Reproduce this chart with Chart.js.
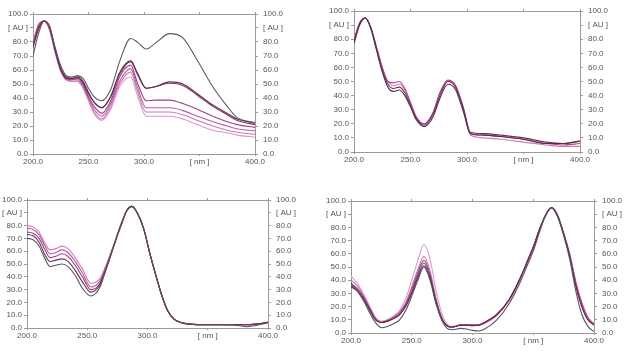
<!DOCTYPE html>
<html>
<head>
<meta charset="utf-8">
<script src="https://cdn.jsdelivr.net/npm/chart.js@4.4.1/dist/chart.umd.min.js"></script>
<style>
  body { margin: 0; background: #fff; width: 624px; height: 363px; overflow: hidden; position: relative; }
  canvas { position: absolute; }
</style>
</head>
<body>
<canvas id="chart1"></canvas>
<canvas id="chart2"></canvas>
<canvas id="chart3"></canvas>
<canvas id="chart4"></canvas>
<script>
// wavelength (nm) per panel, absorbance (AU) per curve
const wl1 = [200,205,210,215,220,225,230,235,240,245,250,255,262,270,278,288,294,302,310,323,335,348,362,375,384,400];
const p1a = [70,86,95,91,76,63,56,55,56,54,47,41,38,46,66,82.5,80,75,79,86,83,67,48,34,26,22.5];
const p1b = [76,89,95,91,75,61,55,54,55,52,44,37,33,41,58,66.5,58,47,48,51.5,50,43,35,29,25,22];
const p1c = [77,90,95,90,74,61,54,54,55,51,43,37,33,41,57,66,57,47,48,50.5,49,42,34,28,24,21];
const p1d = [78,91,95,90,74,60,54,53,54,50,41,34,29,38,55,63.5,51,38,38.5,38.5,36,32,27,23,21,19];
const p1e = [79,92,95,89,73,60,53,53,53,49,40,32,27,36,52,61,48,33,33,33,31,27,23,20,18,16.5];
const p1f = [79,92,95,89,73,59,53,52,52,48,39,30,25,34,50,58.5,45,30,30,30,28,24,20,17,15.5,14];
const p1g = [80,93,95,88,72,59,53,52,52,47,38,29,24,32,48,55,42,27,27,27,25,21,17,15,13.5,12];

const wl2 = [200,205,210,215,220,225,230,235,240,245,250,255,262,270,276,283,290,297,303,315,330,350,370,385,400];
const p2a = [77,90,95,87,72,57,46,43,44,40,32,23,18,25,38,48,44,28,13,12,11,9,6,6,7.5];
const p2b = [78,91,95,88,73,58,48,45,46,42,33,24,19,27,40,50,46,30,14,13,12,10,7,6,8];
const p2c = [79,91,95,88,74,60,50,49,50,45,35,25,20,28,42,51,47,31,13,12,11,9,6,5,6];
const p2d = [80,92,95,88,74,60,50,47,48,44,35,25,20,28,42,50,46,30,12,10,9,7,5,4,4];

const wl3 = [200,205,210,215,219,224,229,234,240,246,253,260,266,272,278,283,287,292,297,302,307,312,317,322,327,335,350,365,375,382,390,400];
const p3a = [70,69,64,54,48,49,50,48,41,31,25,31,47,64,80,92,95,89,77,58,41,25,13,7,4.5,3,2.5,2.5,2,1,2,4];
const p3b = [73,72,67,57,52,53,54,52,45,36,28,33,47,64,80,92,95,89,77,58,41,25,13,7,4.5,3,2.5,2.5,2.5,2.5,3,4.5];
const p3c = [75,74,70,61,55,56,58,56,49,40,30,34,48,64,81,92,95,89,77,58,41,25,13,7,4.5,3,2.5,2.5,2.5,2.5,3,4.5];
const p3d = [78,77,73,64,58,59,61,59,52,43,32,36,49,65,81,92,95,89,77,58,41,25,13,7,4.5,3,2.5,2.5,2.5,2.5,3,4.5];
const p3e = [80,79,75,66,61,62,64,62,55,46,35,38,50,65,81,92,95,89,77,58,41,25,13,7,4.5,3,2.5,2.5,2.5,2.5,3,4.5];

const wl4 = [200,205,210,215,220,225,230,235,240,245,250,255,260,265,270,275,280,284,290,295,300,305,310,320,330,340,345,350,355,360,365,370,375,380,385,390,395,400];
const p4a = [38,32,25,16,8,4,5,7,10,17,28,40,50,40,22,9,3,2.5,3.5,3,2,1.5,3,10,22,40,51,62,76,89,95,88,74,56,32,14,5,1];
const p4b = [35,32,26,18,10,8,9,11,14,20,30,42,51,42,23,10,5,4.5,6,6,6,6,8,14,25,43,54,65,78,89,95,89,75,58,36,20,10,6];
const p4c = [36,33,27,19,11,8,9,11,14,21,31,44,53,43,24,10,5,4.5,6,6,6,6,8,14,25,43,54,65,78,89,95,89,75,58,36,20,10,6];
const p4d = [37,34,28,19,11,8,9,12,15,22,33,46,55,45,25,11,5,4.5,6,6,5.5,6,8,14,25,43,54,65,78,89,95,89,75,59,38,22,11,6.5];
const p4e = [40,36,29,20,11,8,10,12,16,23,35,48,58,47,26,11,5,4.5,6,6,5.5,6,8,14,25,43,54,65,78,89,95,89,76,60,39,23,12,7];
const p4f = [43,38,30,21,12,9,10,13,17,26,40,55,67,56,32,14,6,5,6,6,5.5,6,7,13,24,42,53,64,77,88,95,89,76,60,39,23,12,7];

const xTicks = [200, 250, 300, 350, 400];
const yTicks = [0, 10, 20, 30, 40, 50, 60, 70, 80, 90, 100];

const tickColor = "#555";
const axisColor = "#9a9a9a";
const tickFont = { family: "Liberation Sans", size: 8 };

function xLabel(v) {
  return v === 350 ? "[ nm ]" : v.toFixed(1);
}
function yLabel(v) {
  return v === 90 ? "[ AU ]" : v.toFixed(1);
}

function yAxis(pos, width) {
  return {
    type: "linear",
    position: pos,
    min: 0,
    max: 100,
    afterBuildTicks: (s) => { s.ticks = yTicks.map((v) => ({ value: v })); },
    afterFit: (s) => { s.width = width; },
    grid: { drawOnChartArea: false, tickLength: 3, color: axisColor },
    border: { color: axisColor },
    ticks: { color: tickColor, font: tickFont, padding: pos === "left" ? 2 : 5, autoSkip: false, callback: yLabel },
  };
}

// box = plot area on the page: left, right, top, bottom
function spectrumChart(id, wl, series, colors, box) {
  const padL = 34, padR = 36, padT = 10, padB = 20;
  const canvas = document.getElementById(id);
  canvas.width = box.r - box.l + padL + padR;
  canvas.height = box.b - box.t + padT + padB;
  canvas.style.left = (box.l - padL) + "px";
  canvas.style.top = (box.t - padT) + "px";

  const datasets = series.map((vals, i) => ({
    data: wl.map((x, k) => ({ x: x, y: vals[k] })),
    borderColor: colors[i],
    borderWidth: 1.1,
    pointRadius: 0,
    fill: false,
    cubicInterpolationMode: "monotone",
  }));

  new Chart(canvas.getContext("2d"), {
    type: "line",
    data: { datasets: datasets },
    options: {
      responsive: false,
      animation: false,
      layout: { padding: { top: padT, left: 0, right: 0, bottom: 0 } },
      plugins: { legend: { display: false }, tooltip: { enabled: false } },
      scales: {
        x: {
          type: "linear",
          min: 200,
          max: 400,
          afterBuildTicks: (s) => { s.ticks = xTicks.map((v) => ({ value: v })); },
          afterFit: (s) => { s.height = padB; },
          grid: { drawOnChartArea: false, tickLength: 2, color: axisColor },
          border: { color: axisColor },
          ticks: { color: tickColor, font: tickFont, padding: 1, maxRotation: 0, autoSkip: false, callback: xLabel },
        },
        xTop: {
          type: "linear",
          position: "top",
          min: 200,
          max: 400,
          afterBuildTicks: (s) => { s.ticks = xTicks.map((v) => ({ value: v })); },
          afterFit: (s) => { s.height = 0; },
          grid: { drawOnChartArea: false, tickLength: 2, color: axisColor },
          border: { color: axisColor },
          ticks: { display: false },
        },
        y: yAxis("left", padL),
        yRight: yAxis("right", padR),
      },
    },
  });
}

spectrumChart("chart1", wl1, [p1a, p1b, p1c, p1d, p1e, p1f, p1g],
  ["#5a5a5a", "#5e2c4c", "#7c3a6a", "#a23e8a", "#bb5ca4", "#cc7ab6", "#db98c9"],
  { l: 33, r: 255, t: 14, b: 154 });

spectrumChart("chart2", wl2, [p2a, p2b, p2c, p2d],
  ["#4a3444", "#7a2a62", "#ad448c", "#d07cb8"],
  { l: 354, r: 580, t: 11, b: 152 });

spectrumChart("chart3", wl3, [p3a, p3b, p3c, p3d, p3e],
  ["#555555", "#6c2c58", "#923c7c", "#b8589e", "#d27eba"],
  { l: 27, r: 268, t: 200, b: 328 });

spectrumChart("chart4", wl4, [p4a, p4b, p4c, p4d, p4e, p4f],
  ["#555555", "#6b2855", "#8a3a76", "#a8508f", "#c272ac", "#d99ac9"],
  { l: 351, r: 594, t: 201, b: 333 });
</script>
</body>
</html>
